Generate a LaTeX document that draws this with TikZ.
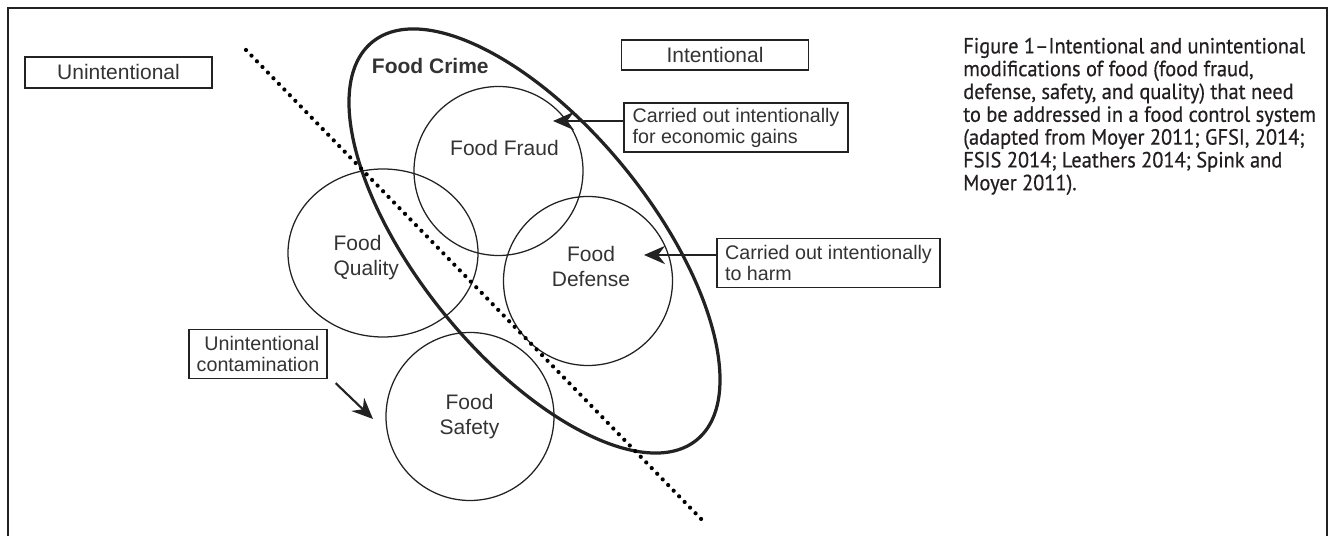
\documentclass[tikz,border=0pt]{standalone}
\usepackage{fontspec}
\setmainfont{Liberation Sans}
\newfontfamily\capfont[FakeStretch = 0.93,FakeBold = 0.5]{PT Sans}
\usetikzlibrary{arrows.meta,shapes.geometric}
\definecolor{ink}{HTML}{222222}
\definecolor{txt}{HTML}{333333}
\definecolor{captxt}{HTML}{231F20}

\begin{document}
\begin{tikzpicture}
		\tikzset{> = {Stealth[length = 15pt,width = 13pt,inset = 5pt]}}
		\tikzset{tag/.style = {draw = ink,line width = 0.9pt,text = txt,inner sep = 0pt,font = \fontsize{14.94}{17}\selectfont}}
		\tikzset{note/.style = {draw = ink,line width = 0.9pt,text = txt,inner sep = 0pt,minimum height = 1.225cm,font = \fontsize{14}{14.93}\selectfont}}
		\tikzset{ring/.style = {circle,draw = ink,line width = 0.9pt,inner sep = 0pt,minimum size = 4.225cm}}
		\tikzset{word/.style = {text = txt,inner sep = 0pt,align = center,font = \fontsize{14.94}{17.78}\selectfont}}
		\useasboundingbox (0,0) rectangle (33.3,13.4);
		\draw[ink,line width = 1pt] (0.2,-0.3) -- (0.2,13.2) -- (33.175,13.2) -- (33.175,-0.3);
		\node[ring] (F) at (12.4625,9.125){};
		\node[ring,ellipse,minimum width = 4.75cm,minimum height = 4.2cm] (Q) at (9.575,7.075){};
		\node[ring] (D) at (14.7,6.375){};
		\node[ring,minimum size = 4.2cm] (S) at (11.75,2.9875){};
		\node[ellipse,draw = ink,line width = 2.3pt,inner sep = 0pt,minimum width = 12.835cm,minimum height = 5.8cm,rotate = -50.8] (C) at (13.3625,7.375){};
		\coordinate (T) at (6.15,12.15);
		\coordinate (B) at (17.625,0.325);
		\draw[black,line width = 3pt,line cap = round,dash pattern = on 0pt off 5.6pt] (T) -- (B);
		\node[word,anchor = base] (FF) at (12.6125,9.5125){Food Fraud};
		\node[word,anchor = north west,align = left] (FQ) at (8.3325,7.5325){Food\\Quality};
		\node[word,anchor = north] (FD) at (14.775,7.2575){Food\\Defense};
		\node[word,anchor = north] (FS) at (11.7375,3.5575){Food\\Safety};
		\node[word,anchor = base west,font = \bfseries\fontsize{14.94}{17.78}\selectfont] (FC) at (9.2925,11.55){Food Crime};
		\node[tag,minimum width = 4.675cm,minimum height = 0.775cm] (U) at (2.9625,11.5875){Unintentional};
		\node[tag,minimum width = 4.675cm,minimum height = 0.75cm] (I) at (17.875,12.025){Intentional};
		\node[note,minimum width = 5.6cm,align = left] (E) at (18.4,10.2125){Carried out intentionally\\for economic gains};
		\node[note,minimum width = 5.575cm,align = left] (H) at (20.7125,6.825){Carried out intentionally\\to harm};
		\node[note,minimum width = 3.45cm,align = right] (K) at (6.45,4.55){Unintentional\\contamination};
		\coordinate (EF) at (13.825,10.375);
		\coordinate (HD) at (16.1,7.025);
		\coordinate (KS) at (9.325,2.925);
		\draw[->,ink,line width = 1.5pt] (E.west |- EF) -- (EF);
		\draw[->,ink,line width = 1.5pt] (H.west |- HD) -- (HD);
		\draw[->,ink,line width = 1.5pt] ([shift = {(0.2,-0.1)}]K.south east) -- (KS);
		\node[anchor = north west,inner sep = 0pt,align = left,text = captxt,font = \capfont\fontsize{15.6}{16.22}\selectfont] (CAP) at (24.075,12.4625){Figure 1–Intentional and unintentional\\modifications of food (food fraud,\\defense, safety, and quality) that need\\to be addressed in a food control system\\(adapted from Moyer 2011; GFSI, 2014;\\FSIS 2014; Leathers 2014; Spink and\\Moyer 2011).};
	\end{tikzpicture}
\end{document}
